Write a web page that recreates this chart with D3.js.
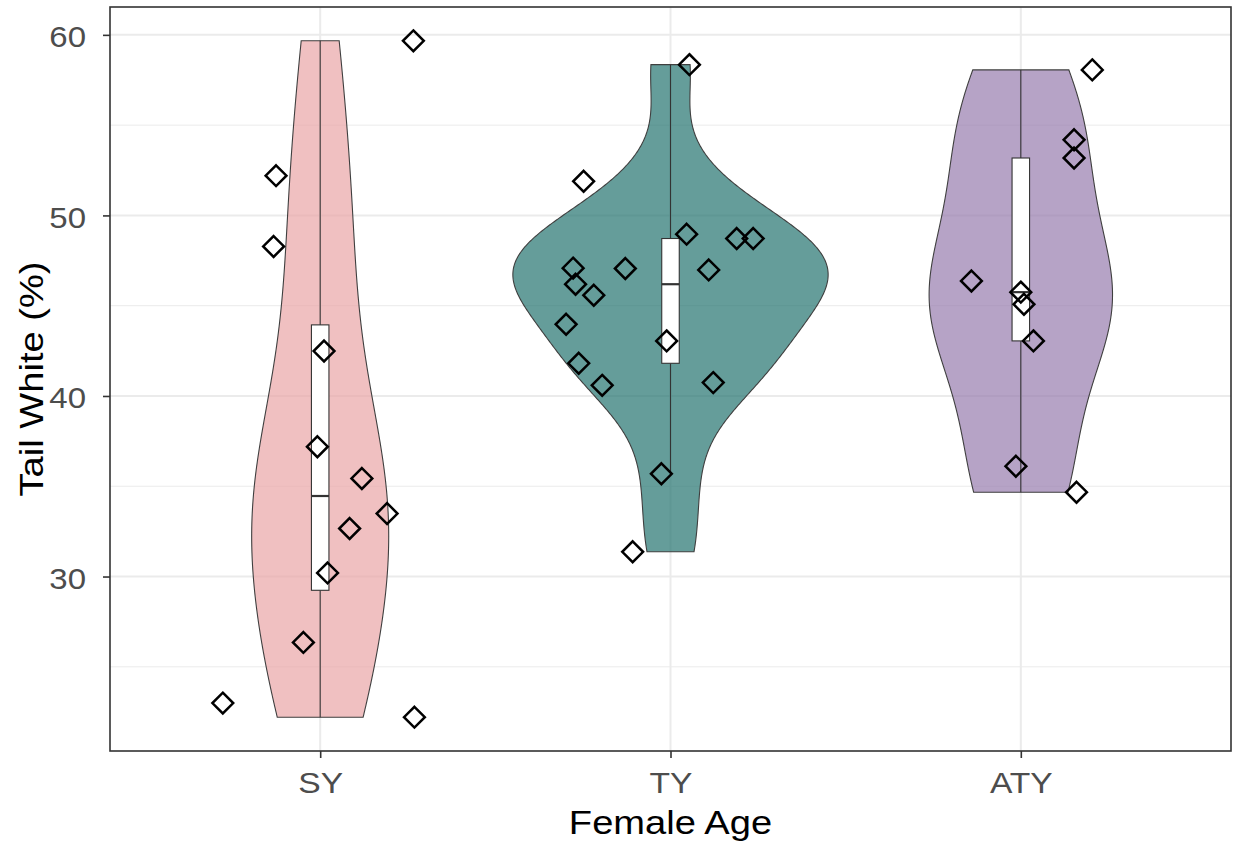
<!DOCTYPE html>
<html>
<head>
<meta charset="utf-8">
<script src="https://cdn.jsdelivr.net/npm/d3@7"></script>
<style>
  body { margin: 0; background: #fff; }
  text { font-family: "Liberation Sans", Arial, sans-serif; }
</style>
</head>
<body>
<svg id="chart" width="1235" height="845"></svg>
<script>
// categories
const groups = ["SY", "TY", "ATY"];
const fills = ["#EAA5A6", "#23746F", "#977CAE"];

// tail white (%) per female
const syValues  = [59.67, 52.2, 48.28, 42.49, 37.19, 35.43, 33.49, 32.66, 30.20, 26.35, 22.99, 22.21];
const tyValues  = [58.35, 51.89, 48.96, 48.72, 48.72, 47.08, 47.06, 46.98, 46.19, 45.58, 43.97, 43.05, 41.81, 40.59, 40.74, 35.69, 31.37];
const atyValues = [58.06, 54.19, 53.18, 46.37, 45.75, 45.08, 43.05, 36.11, 34.67];

// horizontal jitter of each point, in category units
const syJitter  = [0.266, -0.126, -0.133, 0.011, -0.008, 0.119, 0.191, 0.084, 0.021, -0.048, -0.278, 0.269];
const tyJitter  = [0.054, -0.248, 0.046, 0.189, 0.236, -0.278, -0.129, 0.109, -0.271, -0.219, -0.298, -0.011, -0.262, -0.195, 0.122, -0.026, -0.108];
const atyJitter = [0.204, 0.152, 0.152, -0.141, 0.000, 0.009, 0.036, -0.014, 0.159];

const yTicks = [30, 40, 50, 60];
const yMinor = [25, 35, 45, 55];

const allValues = [syValues, tyValues, atyValues];
const allJitter = [syJitter, tyJitter, atyJitter];

const svg = d3.select("#chart");
const pLeft = 110, pRight = 1231, pTop = 7, pBottom = 751;

const x = d3.scalePoint().domain(groups).range([pLeft, pRight]).padding(0.6);
const step = x.step();

const flat = allValues.flat();
const lo = d3.min(flat), hi = d3.max(flat), pad = (hi - lo) * 0.05;
const y = d3.scaleLinear().domain([lo - pad, hi + pad]).range([pBottom, pTop]);

// gaussian kde like R density(bw = "nrd0"), trimmed to data range
function bwNrd0(v) {
  const s = d3.deviation(v);
  const q = (d3.quantile(v, 0.75) - d3.quantile(v, 0.25)) / 1.34;
  return 0.9 * Math.min(s, q) * Math.pow(v.length, -0.2);
}
function kde(v) {
  const bw = bwNrd0(v), n = v.length;
  const a = d3.min(v), b = d3.max(v);
  return d3.range(512).map(i => {
    const t = a + (b - a) * i / 511;
    let s = 0;
    v.forEach(d => { const z = (t - d) / bw; s += Math.exp(-0.5 * z * z); });
    return { v: t, d: s / (n * bw * Math.sqrt(2 * Math.PI)) };
  });
}
const dens = allValues.map(kde);
const maxD = d3.max(dens.flat(), d => d.d);

// widen glyphs a bit, the original font runs wider than Liberation Sans
function widen(sel, k) {
  sel.each(function () {
    const w = this.getComputedTextLength();
    d3.select(this).attr("textLength", w * k).attr("lengthAdjust", "spacingAndGlyphs");
  });
}

// panel background + grid
svg.append("rect").attr("x", pLeft).attr("y", pTop).attr("width", pRight - pLeft).attr("height", pBottom - pTop).attr("fill", "#fff");
svg.append("g").selectAll("line").data(yMinor).join("line")
  .attr("x1", pLeft).attr("x2", pRight).attr("y1", d => y(d)).attr("y2", d => y(d))
  .attr("stroke", "#EBEBEB").attr("stroke-width", 1);
svg.append("g").selectAll("line").data(yTicks).join("line")
  .attr("x1", pLeft).attr("x2", pRight).attr("y1", d => y(d)).attr("y2", d => y(d))
  .attr("stroke", "#EBEBEB").attr("stroke-width", 2);
svg.append("g").selectAll("line").data(groups).join("line")
  .attr("x1", d => x(d)).attr("x2", d => x(d)).attr("y1", pTop).attr("y2", pBottom)
  .attr("stroke", "#EBEBEB").attr("stroke-width", 2);

// violins
groups.forEach((g, i) => {
  const cx = x(g);
  const area = d3.area()
    .y(d => y(d.v))
    .x0(d => cx - d.d / maxD * 0.45 * step)
    .x1(d => cx + d.d / maxD * 0.45 * step);
  svg.append("path").datum(dens[i]).attr("d", area)
    .attr("fill", fills[i]).attr("fill-opacity", 0.7)
    .attr("stroke", "#3F3F3F").attr("stroke-width", 1.1);
});

// boxplots
groups.forEach((g, i) => {
  const v = allValues[i].slice().sort(d3.ascending);
  const q1 = d3.quantile(v, 0.25), med = d3.quantile(v, 0.5), q3 = d3.quantile(v, 0.75);
  const iqr = q3 - q1;
  const wLo = d3.min(v.filter(d => d >= q1 - 1.5 * iqr));
  const wHi = d3.max(v.filter(d => d <= q3 + 1.5 * iqr));
  const cx = x(g), bw = 0.05 * step;
  const gb = svg.append("g").attr("stroke", "#333").attr("stroke-width", 1.1);
  gb.append("line").attr("x1", cx).attr("x2", cx).attr("y1", y(wHi)).attr("y2", y(q3));
  gb.append("line").attr("x1", cx).attr("x2", cx).attr("y1", y(q1)).attr("y2", y(wLo));
  gb.append("rect").attr("x", cx - bw / 2).attr("width", bw)
    .attr("y", y(q3)).attr("height", y(q1) - y(q3)).attr("fill", "#fff");
  gb.append("line").attr("x1", cx - bw / 2).attr("x2", cx + bw / 2)
    .attr("y1", y(med)).attr("y2", y(med)).attr("stroke-width", 2.2);
});

// jittered points (open diamonds)
const r = 10.4;
const diamond = `M0,${-r}L${r},0L0,${r}L${-r},0Z`;
groups.forEach((g, i) => {
  svg.append("g").selectAll("path").data(allValues[i]).join("path")
    .attr("d", diamond)
    .attr("transform", (d, j) => `translate(${x(g) + allJitter[i][j] * step},${y(d)})`)
    .attr("fill", "none").attr("stroke", "#000").attr("stroke-width", 2.5);
});

// panel border
svg.append("rect").attr("x", pLeft).attr("y", pTop).attr("width", pRight - pLeft).attr("height", pBottom - pTop)
  .attr("fill", "none").attr("stroke", "#333").attr("stroke-width", 1.6);

// axes
const yAxis = svg.append("g").attr("transform", `translate(${pLeft},0)`)
  .call(d3.axisLeft(y).tickValues(yTicks).tickSize(7).tickPadding(17));
const xAxis = svg.append("g").attr("transform", `translate(0,${pBottom})`)
  .call(d3.axisBottom(x).tickSize(7));
[yAxis, xAxis].forEach(a => {
  a.select(".domain").remove();
  a.selectAll(".tick line").attr("stroke", "#333").attr("stroke-width", 1.6);
  a.selectAll(".tick text").attr("fill", "#4D4D4D").style("font-size", "30px")
    .style("font-family", "'Liberation Sans', Arial, sans-serif");
});
yAxis.selectAll(".tick text").attr("dy", "0.4em");
xAxis.selectAll(".tick text").attr("y", 42).attr("dy", null);
widen(yAxis.selectAll(".tick text"), 1.1);
widen(xAxis.selectAll(".tick text"), 1.12);

svg.append("text").attr("x", (pLeft + pRight) / 2).attr("y", 834)
  .attr("text-anchor", "middle").style("font-size", "34px").text("Female Age")
  .call(widen, 1.12);
svg.append("text").attr("transform", `translate(43,${(pTop + pBottom) / 2}) rotate(-90)`)
  .attr("text-anchor", "middle").style("font-size", "34px").text("Tail White (%)")
  .call(widen, 1.12);
</script>
</body>
</html>
